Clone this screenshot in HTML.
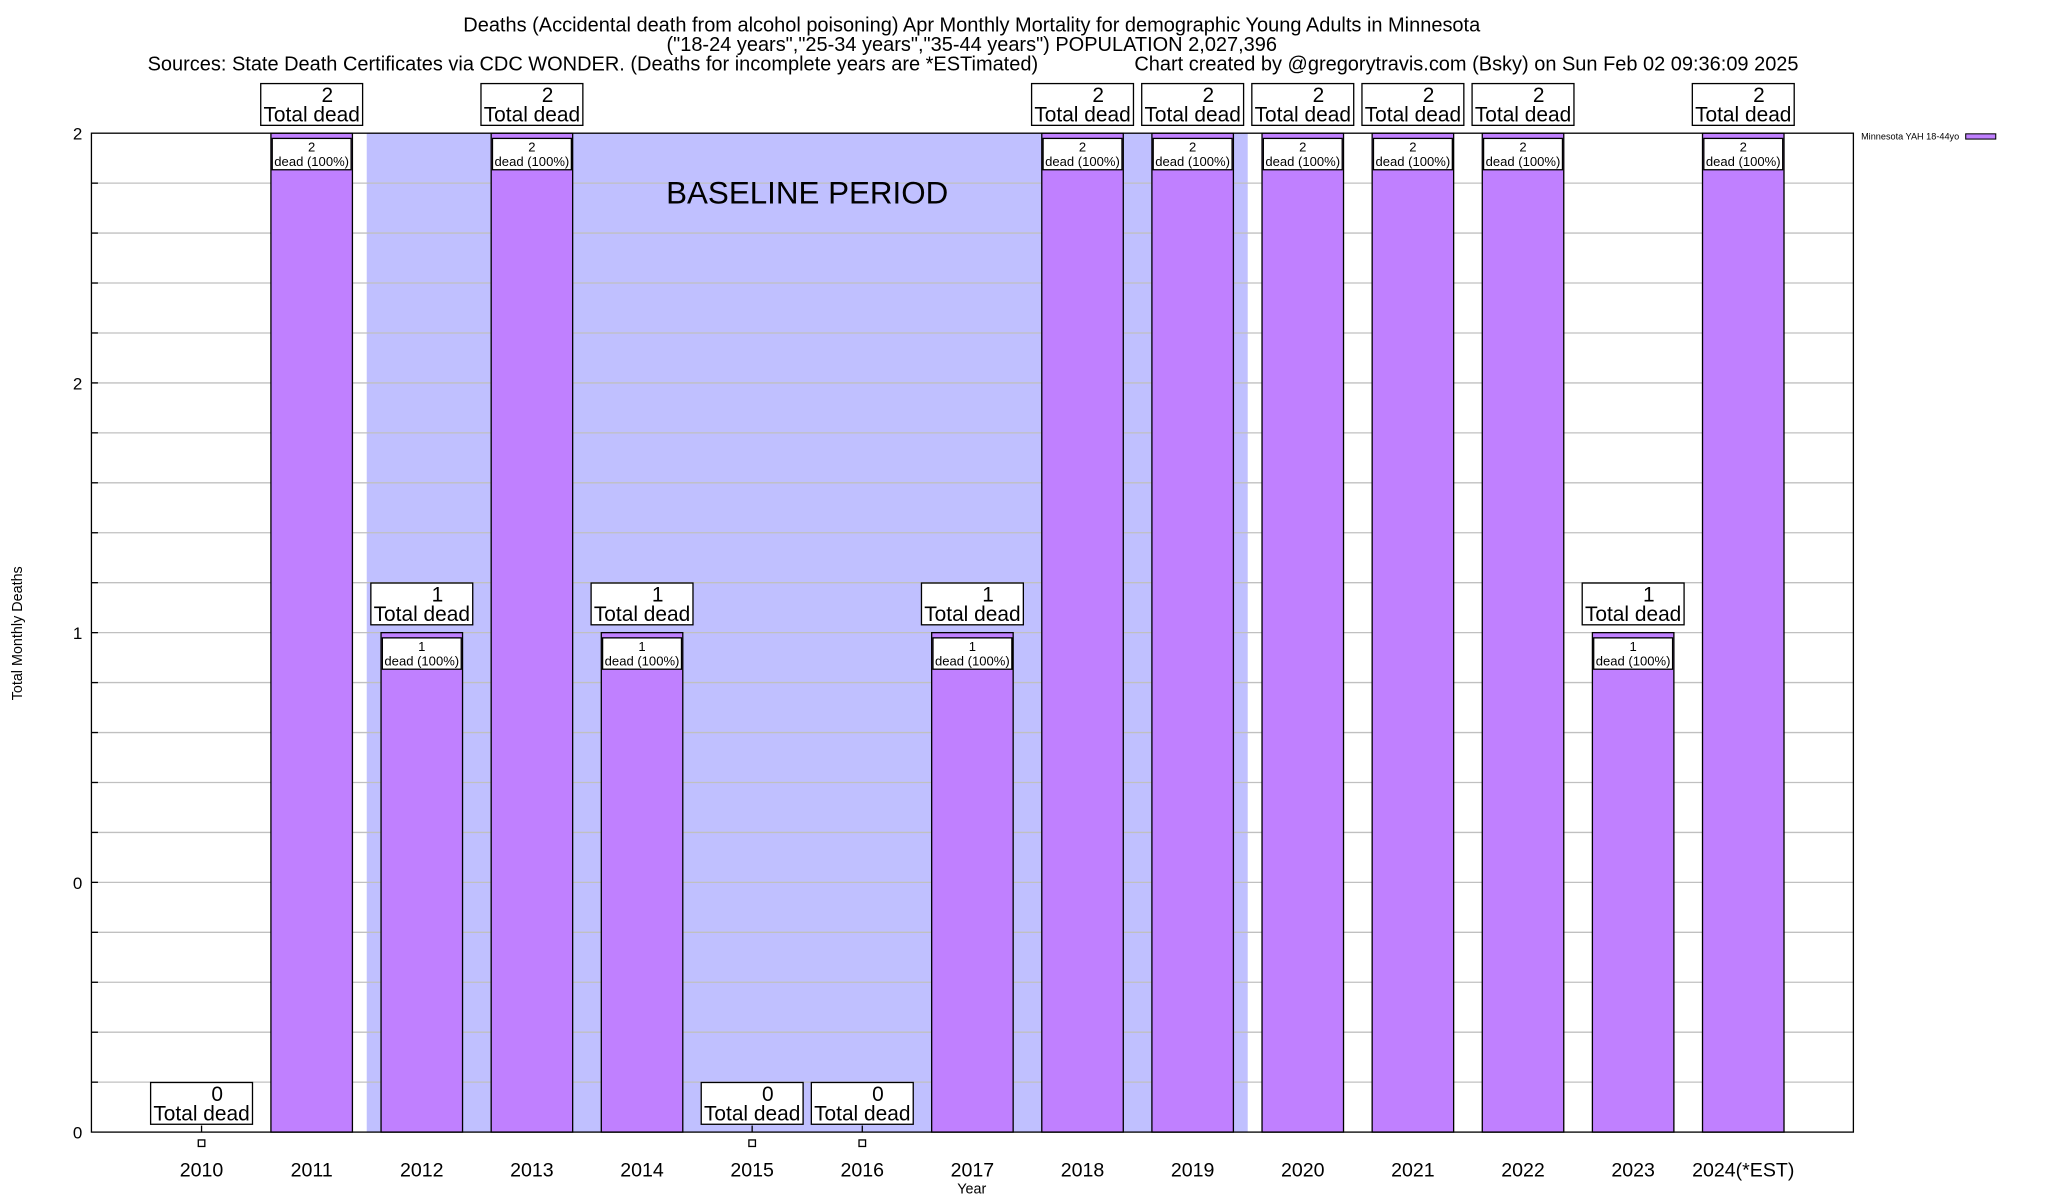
<!DOCTYPE html>
<html><head><meta charset="utf-8"><style>
html,body{margin:0;padding:0;background:#fff;}
svg{display:block;font-family:"Liberation Sans",Arial,sans-serif;}
</style></head><body>
<svg id="chart" width="2048" height="1200" viewBox="0 0 1568 919" preserveAspectRatio="none" xmlns="http://www.w3.org/2000/svg">
<g font-size="15.3" text-anchor="middle">
<text x="744" y="24">Deaths (Accidental death from alcohol poisoning) Apr Monthly Mortality for demographic Young Adults in Minnesota</text>
<text x="744" y="39">("18-24 years","25-34 years","35-44 years") POPULATION 2,027,396</text>
<text x="113" y="54" text-anchor="start">Sources: State Death Certificates via CDC WONDER. (Deaths for incomplete years are *ESTimated)</text>
<text x="1377" y="54" text-anchor="end">Chart created by @gregorytravis.com (Bsky) on Sun Feb 02 09:36:09 2025</text>
</g>
<g id="plot"></g>
</svg>
<script>
const categories = ["2010","2011","2012","2013","2014","2015","2016","2017","2018","2019","2020","2021","2022","2023","2024(*EST)"];
const deaths = [0,2,1,2,1,0,0,1,2,2,2,2,2,1,2];
const yTickValues = [0,0.5,1,1.5,2];
const yTickLabels = ["0","0","1","2","2"];
const baselineStart = 1.5, baselineEnd = 9.5;

const L=70,R=1419,T=102,B=867;
const xMin=-1,xMax=15,yMin=0,yMax=2;
const NS="http://www.w3.org/2000/svg";
const xs=v=>L+(v-xMin)/(xMax-xMin)*(R-L);
const ys=v=>B-(v-yMin)/(yMax-yMin)*(B-T);
const g=document.getElementById('plot');
function mk(tag,attrs,parent){const e=document.createElementNS(NS,tag);for(const k in attrs)e.setAttribute(k,attrs[k]);(parent||g).appendChild(e);return e;}

let sh=mk('rect',{x:xs(baselineStart),y:T,width:xs(baselineEnd)-xs(baselineStart),height:B-T,fill:'#c0c0ff'});


for(let i=1;i<20;i++){const v=i*0.1;
 let gl=mk('line',{x1:L,x2:R,y1:ys(v),y2:ys(v),stroke:'#c0c0c0','stroke-width':1});
 
 
 let tk=mk('line',{x1:L,x2:L+5,y1:ys(v),y2:ys(v),stroke:'#000'});
 
 
}
let bt=mk('text',{x:618,y:156,'font-size':24,'text-anchor':'middle'});bt.textContent='BASELINE PERIOD';


yTickValues.forEach((v,i)=>{let t=mk('text',{x:63,y:ys(v)+5,'font-size':13,'text-anchor':'end'});t.textContent=yTickLabels[i];
 
 
});
const bw=0.74;
deaths.forEach((d,i)=>{
 const cx=xs(i),x0=xs(i-bw/2),x1=xs(i+bw/2),top=ys(d);
 let tk=mk('line',{x1:cx,x2:cx,y1:B,y2:B-5,stroke:'#000'});
 
 
 if(d>0){
  let b=mk('rect',{x:x0,y:top,width:x1-x0,height:B-top,fill:'#c080ff',stroke:'#000','stroke-width':1});
  
  
  let ib=mk('rect',{x:x0+1,y:top+4,width:x1-x0-2,height:24,fill:'#fff',stroke:'#000','stroke-width':1});
  
  
  let t1=mk('text',{x:cx,y:top+14,'font-size':10,'text-anchor':'middle'});t1.textContent=d;
  
  
  let t2=mk('text',{x:cx,y:top+25,'font-size':10,'text-anchor':'middle'});t2.textContent='dead (100%)';
  
  
 } else {
  let m=mk('rect',{x:cx-2.5,y:B+6,width:5,height:5,fill:'#fff',stroke:'#000','stroke-width':1});
  
  
 }
 let ob=mk('rect',{x:cx-39,y:top-38,width:78,height:32,fill:'#fff',stroke:'#000','stroke-width':1});
 
 
 let o1=mk('text',{x:cx+12,y:top-24,'font-size':16,'text-anchor':'middle'});o1.textContent=d;
 
 
 let o2=mk('text',{x:cx,y:top-9,'font-size':16,'text-anchor':'middle'});o2.textContent='Total dead';
 
 
 let xl=mk('text',{x:cx,y:901,'font-size':15,'text-anchor':'middle'});xl.textContent=categories[i];
 
 
});
let fr=mk('rect',{x:L,y:T,width:R-L,height:B-T,fill:'none',stroke:'#000','stroke-width':1});


let xt=mk('text',{x:744,y:914,'font-size':11,'text-anchor':'middle'});xt.textContent='Year';


let yt=mk('text',{x:17,y:485,'font-size':11,'text-anchor':'middle',transform:'rotate(-90 17 485)'});yt.textContent='Total Monthly Deaths';


let lt=mk('text',{x:1500,y:107,'font-size':7,'text-anchor':'end'});lt.textContent='Minnesota YAH 18-44yo';


let ls=mk('rect',{x:1505,y:102.5,width:23,height:4,fill:'#c080ff',stroke:'#000','stroke-width':0.8});


</script>
</body></html>
